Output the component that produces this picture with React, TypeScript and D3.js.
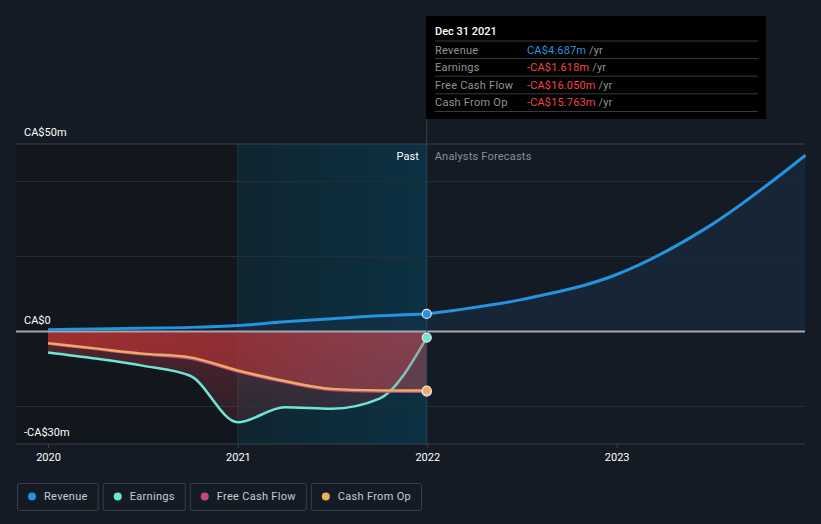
import React, { useEffect, useRef } from "react";
import * as d3 from "d3";

const pastDates = [
  "2020-01-01", "2020-04-01", "2020-07-01", "2020-10-01",
  "2021-01-01", "2021-04-01", "2021-07-01", "2021-10-01", "2021-12-31",
];
const revenuePast = [0.5, 0.7, 0.9, 1.1, 1.6, 2.6, 3.4, 4.2, 4.687];
const earningsPast = [-5.6, -7.2, -9.1, -11.8, -24.2, -20.2, -20.6, -17.9, -1.618];
const fcfPast = [-3.3, -4.7, -6.1, -7.2, -10.7, -13.5, -15.6, -16.0, -16.05];
const cfoPast = [-3.1, -4.5, -5.9, -6.9, -10.4, -13.2, -15.3, -15.7, -15.763];

const forecastDates = ["2021-12-31", "2022-07-01", "2023-01-01", "2023-07-01", "2023-12-31"];
const revenueForecast = [4.687, 8.5, 15.2, 28.3, 47];

const yTicks = [-30, -20, 0, 20, 40, 50];
const yLabels = [
  { v: 50, text: "CA$50m" },
  { v: 0, text: "CA$0" },
  { v: -30, text: "-CA$30m" },
];
const xTickYears = ["2020", "2021", "2022", "2023"];

const tooltipRows = [
  { label: "Revenue", value: "CA$4.687m", color: "#2394df" },
  { label: "Earnings", value: "-CA$1.618m", color: "#f0464a" },
  { label: "Free Cash Flow", value: "-CA$16.050m", color: "#f0464a" },
  { label: "Cash From Op", value: "-CA$15.763m", color: "#f0464a" },
];

const legendItems = [
  { label: "Revenue", color: "#2394df" },
  { label: "Earnings", color: "#6ee6d6" },
  { label: "Free Cash Flow", color: "#c2468a" },
  { label: "Cash From Op", color: "#e8ae62" },
];

type Pt = { d: Date; v: number };

const App: React.FC = () => {
  const svgRef = useRef<SVGSVGElement | null>(null);
  const width = 821;
  const height = 524;

  useEffect(() => {
    document.body.style.margin = "0";
    const svg = d3.select(svgRef.current);
    svg.selectAll("*").remove();
    const font = "Roboto, 'Open Sans', sans-serif";

    const left = 16;
    const right = 805;

    const x = d3
      .scaleTime()
      .domain([new Date("2020-01-01"), new Date("2024-01-01")])
      .range([48, 806]);
    const y = d3.scaleLinear().domain([-30, 50]).range([444, 144]);

    const parse = (s: string) => new Date(s);
    const mk = (dates: string[], vals: number[]): Pt[] =>
      dates.map((s, i) => ({ d: parse(s), v: vals[i] }));

    const rev = mk(pastDates, revenuePast);
    const revF = mk(forecastDates, revenueForecast);
    const earn = mk(pastDates, earningsPast);
    const fcf = mk(pastDates, fcfPast);
    const cfo = mk(pastDates, cfoPast);
    const hx = x(parse("2021-12-31"));

    const defs = svg.append("defs");
    const pastGrad = defs.append("linearGradient").attr("id", "pastGrad");
    pastGrad.append("stop").attr("offset", "0%").attr("stop-color", "#0f2530");
    pastGrad.append("stop").attr("offset", "100%").attr("stop-color", "#0c3142");

    const redGrad = defs.append("linearGradient").attr("id", "redGrad").attr("x1", 0).attr("x2", 1).attr("y1", 0).attr("y2", 0);
    redGrad.append("stop").attr("offset", "0%").attr("stop-color", "#b3302f").attr("stop-opacity", 0.8);
    redGrad.append("stop").attr("offset", "50%").attr("stop-color", "#a83238").attr("stop-opacity", 0.7);
    redGrad.append("stop").attr("offset", "100%").attr("stop-color", "#c05060").attr("stop-opacity", 0.45);

    const redGrad2 = defs.append("linearGradient").attr("id", "redGrad2").attr("x1", 0).attr("x2", 0).attr("y1", 0).attr("y2", 1);
    redGrad2.append("stop").attr("offset", "0%").attr("stop-color", "#a83a40").attr("stop-opacity", 0.45);
    redGrad2.append("stop").attr("offset", "100%").attr("stop-color", "#6a3040").attr("stop-opacity", 0.3);

    const earnStroke = defs.append("linearGradient").attr("id", "earnStroke")
      .attr("gradientUnits", "userSpaceOnUse")
      .attr("x1", hx - 50).attr("x2", hx).attr("y1", 0).attr("y2", 0);
    earnStroke.append("stop").attr("offset", "0%").attr("stop-color", "#6ee6d6");
    earnStroke.append("stop").attr("offset", "100%").attr("stop-color", "#8fa8a6");

    // background
    svg.append("rect").attr("width", width).attr("height", height).attr("fill", "#151b25");
    svg.append("rect")
      .attr("x", left).attr("y", 144)
      .attr("width", x(parse("2021-01-01")) - left).attr("height", 300)
      .attr("fill", "#12161d");
    svg.append("rect")
      .attr("x", x(parse("2021-01-01"))).attr("y", 144)
      .attr("width", hx - x(parse("2021-01-01"))).attr("height", 300)
      .attr("fill", "url(#pastGrad)");

    // grid
    yTicks.forEach((t) => {
      svg.append("line")
        .attr("x1", left).attr("x2", right)
        .attr("y1", y(t)).attr("y2", y(t))
        .attr("stroke", t === 50 || t === -30 ? "#3b414c" : "#262c36")
        .attr("stroke-width", 1);
    });
    svg.append("line")
      .attr("x1", x(parse("2021-01-01"))).attr("x2", x(parse("2021-01-01")))
      .attr("y1", 144).attr("y2", 444)
      .attr("stroke", "#1d3540").attr("stroke-width", 1);

    const curve = d3.curveMonotoneX;
    const area = d3.area<Pt>().x((p) => x(p.d)).y0(y(0)).y1((p) => y(p.v)).curve(curve);
    const line = d3.line<Pt>().x((p) => x(p.d)).y((p) => y(p.v)).curve(curve);

    // revenue fills
    svg.append("path").datum(revF).attr("d", area).attr("fill", "#18283a").attr("opacity", 0.85);
    svg.append("path").datum(rev).attr("d", area).attr("fill", "#1a3550").attr("opacity", 0.35);

    // negative fills
    svg.append("path").datum(earn).attr("d", area).attr("fill", "url(#redGrad2)");
    svg.append("path").datum(cfo).attr("d", area).attr("fill", "url(#redGrad)");

    // zero line
    svg.append("line")
      .attr("x1", left).attr("x2", right)
      .attr("y1", y(0)).attr("y2", y(0))
      .attr("stroke", "#a3a8b0").attr("stroke-width", 2);

    // lines
    svg.append("path").datum(revF).attr("d", line).attr("fill", "none").attr("stroke", "#2394df").attr("stroke-width", 3);
    svg.append("path").datum(rev).attr("d", line).attr("fill", "none").attr("stroke", "#2394df").attr("stroke-width", 3);
    svg.append("path").datum(earn).attr("d", line).attr("fill", "none").attr("stroke", "url(#earnStroke)").attr("stroke-width", 2.5);
    svg.append("path").datum(fcf).attr("d", line).attr("fill", "none").attr("stroke", "#c2468a").attr("stroke-width", 2.5);
    svg.append("path").datum(cfo).attr("d", line).attr("fill", "none").attr("stroke", "#e8ae62").attr("stroke-width", 2.5);

    // hover line
    svg.append("line")
      .attr("x1", hx).attr("x2", hx).attr("y1", 119).attr("y2", 444)
      .attr("stroke", "#2a4450").attr("stroke-width", 1);

    // end markers
    [
      { v: revenuePast[8], c: "#2394df" },
      { v: earningsPast[8], c: "#6ee6d6" },
      { v: fcfPast[8], c: "#c2468a" },
      { v: cfoPast[8], c: "#e8ae62" },
    ].forEach((m) => {
      svg.append("circle").attr("cx", hx).attr("cy", y(m.v)).attr("r", 4.5)
        .attr("fill", m.c).attr("stroke", "#e8e8e8").attr("stroke-width", 1.2);
    });

    // y labels
    yLabels.forEach((l) => {
      svg.append("text").attr("x", 24).attr("y", y(l.v) - 8)
        .attr("fill", "#ffffff").attr("font-family", font).attr("font-size", 11).text(l.text);
    });

    // past / forecast
    svg.append("text").attr("x", hx - 8).attr("y", 160).attr("text-anchor", "end")
      .attr("fill", "#ffffff").attr("font-family", font).attr("font-size", 11).text("Past");
    svg.append("text").attr("x", hx + 8).attr("y", 160)
      .attr("fill", "#8a8f98").attr("font-family", font).attr("font-size", 11)
      .attr("letter-spacing", 0.2).text("Analysts Forecasts");

    // x axis
    const xAxis = d3.axisBottom(x)
      .tickValues(xTickYears.map((yr) => parse(`${yr}-01-01`)))
      .tickFormat((d) => d3.timeFormat("%Y")(d as Date))
      .tickSize(4);
    const ax = svg.append("g").attr("transform", "translate(0,444)").call(xAxis);
    ax.select(".domain").remove();
    ax.selectAll(".tick line").attr("stroke", "#3b414c");
    ax.selectAll(".tick text").attr("fill", "#ffffff").attr("font-family", font).attr("font-size", 11).attr("dy", "0.95em");

    // tooltip
    const tt = svg.append("g").attr("transform", "translate(426,16)");
    tt.append("rect").attr("width", 340).attr("height", 103).attr("fill", "#000000");
    tt.append("text").attr("x", 9).attr("y", 19).attr("fill", "#ffffff")
      .attr("font-family", font).attr("font-size", 11).attr("font-weight", 500).text("Dec 31 2021");
    tooltipRows.forEach((r, i) => {
      const yy = 25 + i * 17.6;
      tt.append("line").attr("x1", 9).attr("x2", 332).attr("y1", yy).attr("y2", yy).attr("stroke", "#3a3a3a");
      const t = tt.append("text").attr("x", 9).attr("y", yy + 12.5)
        .attr("font-family", font).attr("font-size", 11).attr("letter-spacing", 0.25);
      t.append("tspan").attr("fill", "#8f939a").text(r.label);
      const v = tt.append("text").attr("x", 101).attr("y", yy + 12.5)
        .attr("font-family", font).attr("font-size", 11).attr("letter-spacing", 0.15);
      v.append("tspan").attr("fill", r.color).text(r.value);
      v.append("tspan").attr("fill", "#8f939a").text(" /yr");
    });
    tt.append("line").attr("x1", 9).attr("x2", 332).attr("y1", 95.5).attr("y2", 95.5).attr("stroke", "#3a3a3a");

    // legend
    let lx = 17;
    legendItems.forEach((it) => {
      const g = svg.append("g").attr("transform", `translate(${lx},483)`);
      const txt = g.append("text").attr("x", 27).attr("y", 17).attr("fill", "#c8ccd2")
        .attr("font-family", font).attr("font-size", 11).attr("letter-spacing", 0.3).text(it.label);
      const tw = (txt.node() as SVGTextElement).getComputedTextLength();
      const w = tw + 37;
      g.insert("rect", "text").attr("x", 0.5).attr("y", 0.5).attr("width", w).attr("height", 27)
        .attr("rx", 2).attr("fill", "#151b25").attr("stroke", "#3a3f4a");
      g.append("circle").attr("cx", 15).attr("cy", 13.5).attr("r", 4).attr("fill", it.color);
      lx += w + 5;
    });
  }, []);

  return (
    <svg
      ref={svgRef}
      width={width}
      height={height}
      style={{ display: "block", position: "absolute", left: 0, top: 0 }}
    />
  );
};

export default App;
